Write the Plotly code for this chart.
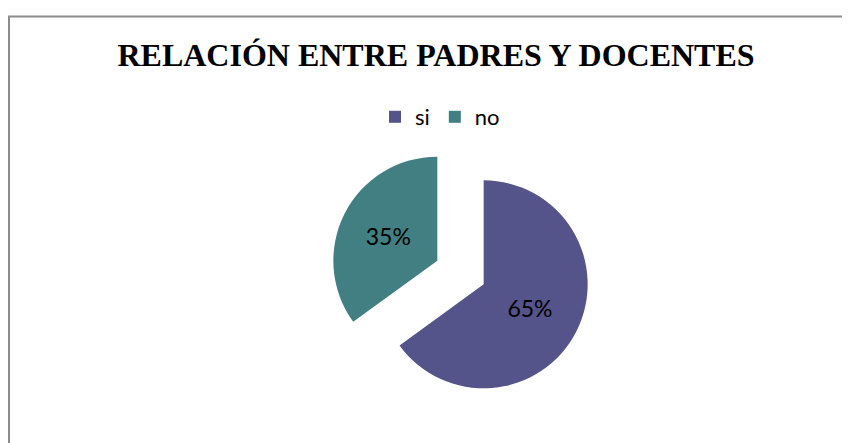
import plotly.graph_objects as go

labels = ["si", "no"]
values = [65, 35]
colors = ["#54548A", "#417F83"]
title_text = "RELACIÓN ENTRE PADRES Y DOCENTES"

W, H = 850, 443

fig = go.Figure()
fig.add_trace(go.Pie(
    labels=labels,
    values=values,
    sort=False,
    direction="clockwise",
    rotation=0,
    pull=[0.25, 0.25],
    marker=dict(colors=colors, line=dict(width=0)),
    textinfo="percent",
    textposition="inside",
    insidetextorientation="horizontal",
    texttemplate="%{percent:.0%}",
    textfont=dict(family="Lato", size=23, color="#000000"),
    domain=dict(x=[0.3794, 0.6853], y=[0.1095, 0.6964]),
    hoverinfo="label+percent",
))

fig.update_layout(
    width=W, height=H,
    margin=dict(l=0, r=0, t=0, b=0),
    paper_bgcolor="white",
    plot_bgcolor="white",
    title=dict(text="<b>" + title_text + "</b>", x=428 / W, xanchor="center",
               y=1 - 47 / H, yanchor="middle",
               font=dict(family="Liberation Serif", size=32, color="#000000")),
    showlegend=True,
    legend=dict(orientation="h", x=432 / W, xanchor="center", y=1 - 109 / H, yanchor="middle",
                font=dict(family="Lato", size=22, color="#000000"),
                itemwidth=30, tracegroupgap=0),
    shapes=[dict(type="rect", xref="paper", yref="paper",
                 x0=1 / W, x1=1.1, y0=-0.2, y1=1 - 8.5 / H,
                 line=dict(color="#8C8C8C", width=2), fillcolor="rgba(0,0,0,0)", layer="below")],
)

fig.write_html("out.html")
